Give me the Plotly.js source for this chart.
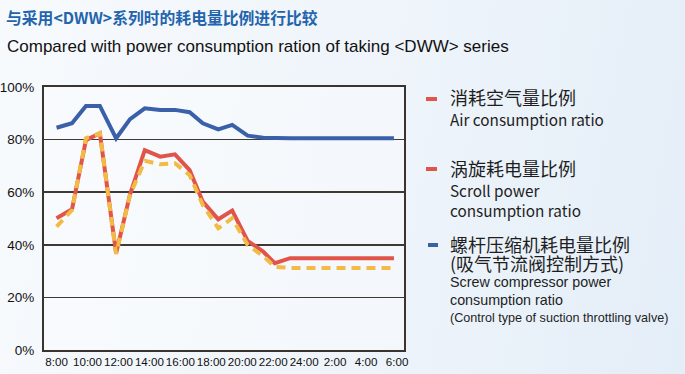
<!DOCTYPE html>
<html>
<head>
<meta charset="utf-8">
<script src="https://cdn.plot.ly/plotly-3.0.1.min.js"></script>
<style>
html,body{margin:0;padding:0;}
body{width:685px;height:374px;background:linear-gradient(100deg,#f7fafd 0%,#eef4fa 55%,#e4eef8 100%);}
#chart{width:685px;height:374px;}
</style>
</head>
<body>
<div id="chart"></div>
<script>
// ---- data ----
const hours = [8, 9, 9.9, 10.8, 11.85, 12.75, 13.7, 14.7, 15.65, 16.6, 17.45, 18.45, 19.35, 20.35, 21.35, 22.1, 23.1, 29.8];
const screwPower = [84.5, 86.2, 92.8, 92.8, 80.5, 87.8, 91.9, 91.3, 91.3, 90.4, 86.2, 83.9, 85.6, 81.5, 80.7, 80.5, 80.5, 80.5];
const airConsumption = [50.1, 53.5, 79.8, 82.4, 36.8, 59.2, 76.0, 73.5, 74.4, 68.4, 56.4, 49.7, 53.0, 41.5, 37.4, 33.0, 34.9, 34.9];
const scrollPower = [46.9, 53.2, 80.5, 82.4, 36.5, 59.0, 71.9, 70.6, 71.0, 66.5, 55.1, 46.3, 50.1, 39.9, 35.8, 31.6, 31.2, 31.2];
const tickHours = [8, 10, 12, 14, 16, 18, 20, 22, 24, 26, 28, 30];
const tickLabels = ["8:00","10:00","12:00","14:00","16:00","18:00","20:00","22:00","24:00","2:00","4:00","6:00"];
const yTicks = [0, 20, 40, 60, 80, 100];
const yLabels = ["0%","20%","40%","60%","80%","100%"];
const titleCN = "与采用&lt;DWW&gt;系列时的耗电量比例进行比较";
const titleEN = "Compared with power consumption ration of taking &lt;DWW&gt; series";
const legendCN = ["消耗空气量比例", "涡旋耗电量比例", "螺杆压缩机耗电量比例"];

// ---- layout helpers (pixel -> paper) ----
const W = 685, H = 374;
const L = 44, R = 404, T = 87, B = 350;
const px = x => (x - L) / (R - L);
const py = y => (B - y) / (B - T);

const RED = '#e1544a', YEL = '#f3bb45', BLUE = '#3a60a9';

const traces = [
  {x: hours, y: airConsumption, type: 'scatter', mode: 'lines', name: 'Air consumption ratio',
   line: {color: RED, width: 4, shape: 'linear'}, hoverinfo: 'skip'},
  {x: hours, y: scrollPower, type: 'scatter', mode: 'lines', name: 'Scroll power consumption ratio',
   line: {color: YEL, width: 4, dash: '9px,6px'}, hoverinfo: 'skip'},
  {x: hours, y: screwPower, type: 'scatter', mode: 'lines', name: 'Screw compressor power consumption ratio',
   line: {color: BLUE, width: 4}, hoverinfo: 'skip'}
];

function ann(text, x, y, size, family, color, extra) {
  return Object.assign({text: text, xref: 'paper', yref: 'paper', x: px(x), y: py(y),
    xanchor: 'left', yanchor: 'middle', showarrow: false, borderpad: 0,
    font: {size: size, family: family, color: color || '#1e1e1e'}}, extra || {});
}
const CJK = '"Noto Sans CJK SC", "Noto Sans", sans-serif';
const ARIAL = '"Liberation Sans", Arial, sans-serif';

const annotations = [
  ann(titleEN, 6, 46, 17, ARIAL, '#111111'),
  ann(legendCN[0], 449, 97, 18, CJK),
  ann('Air consumption ratio', 449, 119, 15.3, CJK),
  ann(legendCN[1], 449, 168, 18, CJK),
  ann('Scroll power', 449, 190, 15.3, CJK),
  ann('consumption ratio', 449, 210, 15.3, CJK),
  ann(legendCN[2], 449, 244, 18, CJK),
  ann('(吸气节流阀控制方式)', 449, 263, 18, CJK),
  ann('Screw compressor power', 449, 282, 14.3, ARIAL),
  ann('consumption ratio', 449, 300, 14.3, ARIAL),
  ann('(Control type of suction throttling valve)', 449, 318, 12.6, ARIAL)
];

const shapes = [
  {type: 'line', xref: 'paper', yref: 'paper', x0: px(426), x1: px(437), y0: py(99), y1: py(99), line: {color: RED, width: 4}},
  {type: 'line', xref: 'paper', yref: 'paper', x0: px(426), x1: px(437), y0: py(169), y1: py(169), line: {color: RED, width: 4}},
  {type: 'line', xref: 'paper', yref: 'paper', x0: px(428), x1: px(438), y0: py(245), y1: py(245), line: {color: BLUE, width: 4}}
];

const layout = {
  width: W, height: H,
  margin: {l: L, r: W - R, t: T, b: H - B, pad: 0},
  paper_bgcolor: 'rgba(0,0,0,0)',
  plot_bgcolor: 'rgba(255,255,255,0.35)',
  showlegend: false,
  title: {text: '<b>' + titleCN + '</b>', xref: 'container', x: 6 / W, xanchor: 'left',
          yref: 'container', y: 1 - 18 / H, yanchor: 'middle',
          font: {size: 15.8, family: CJK, color: '#2364ad'}},
  xaxis: {range: [7.19, 30.45], tickmode: 'array', tickvals: tickHours, ticktext: tickLabels,
          showgrid: false, zeroline: false, showline: true, mirror: true, linecolor: '#3b332e', linewidth: 2,
          ticks: '', ticklen: 0, tickangle: 0, automargin: false,
          tickfont: {size: 11.6, family: ARIAL, color: '#111'},
          fixedrange: true},
  yaxis: {range: [0, 100], tickmode: 'array', tickvals: yTicks, ticktext: yLabels,
          showgrid: true, gridcolor: '#3f3833', gridwidth: 1.5, zeroline: false,
          showline: true, mirror: true, linecolor: '#3b332e', linewidth: 2,
          ticks: '', ticklabelstandoff: 5, tickfont: {size: 13.5, family: ARIAL, color: '#111'}, fixedrange: true},
  annotations: annotations,
  shapes: shapes
};

Plotly.newPlot('chart', traces, layout, {displayModeBar: false, staticPlot: true});
</script>
</body>
</html>
